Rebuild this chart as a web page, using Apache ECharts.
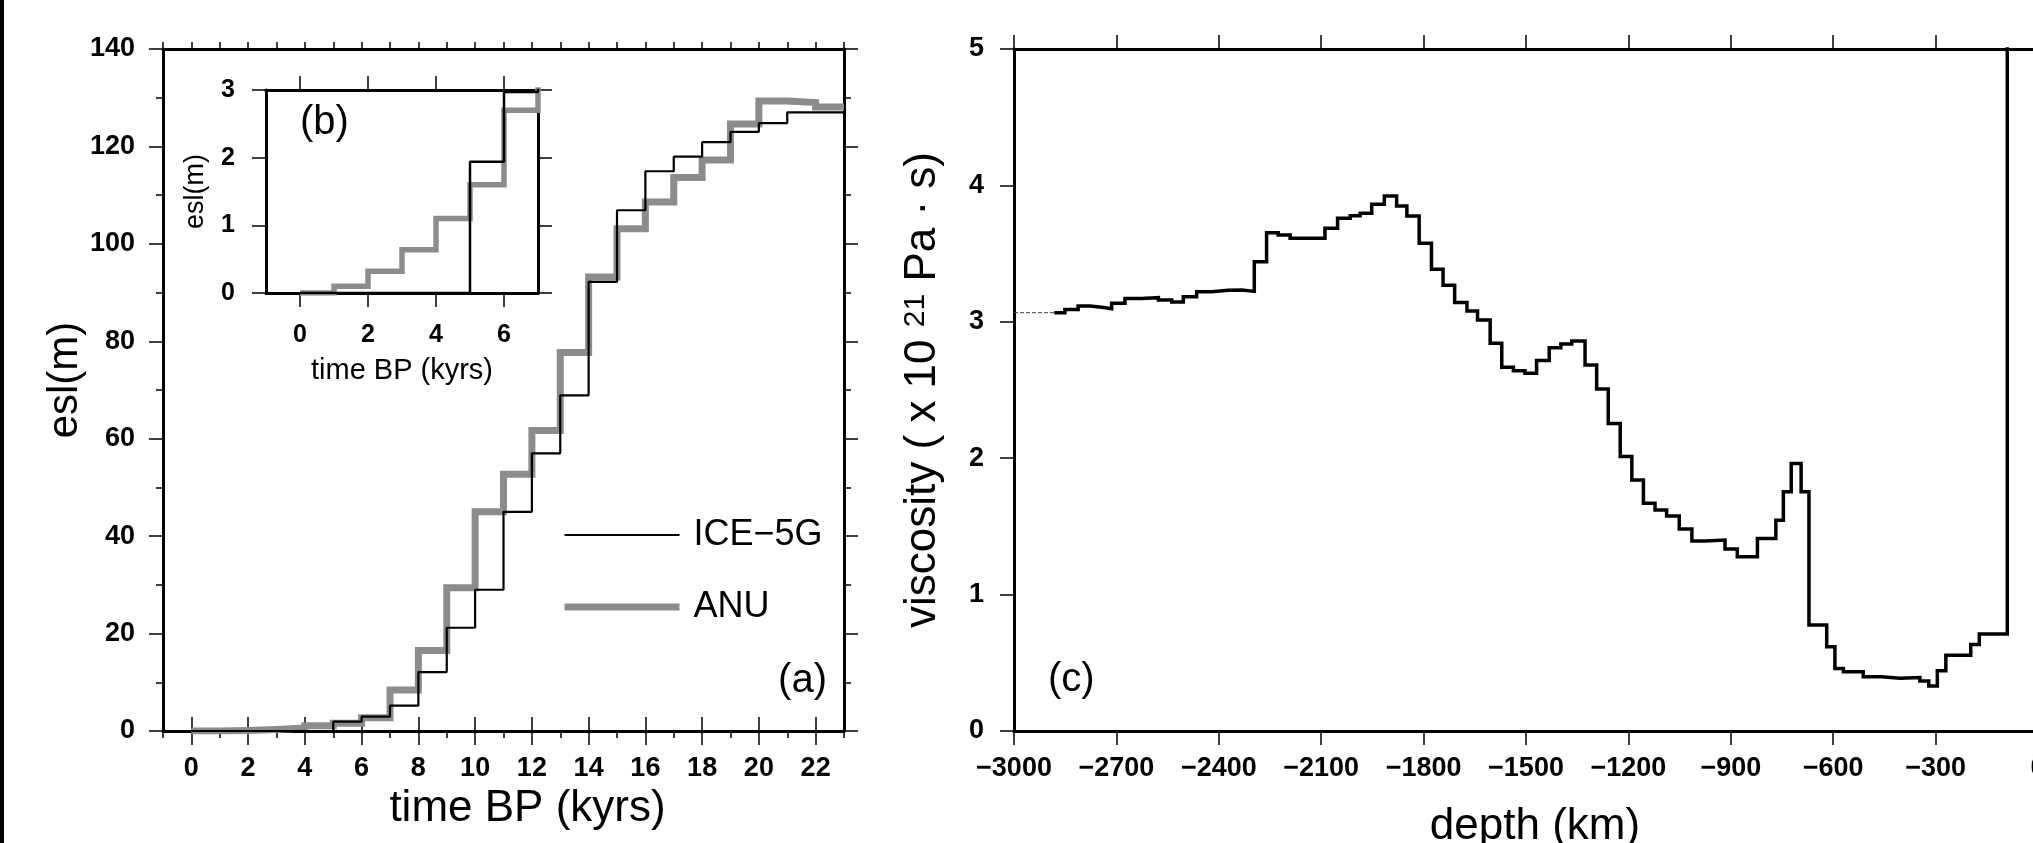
<!DOCTYPE html>
<html><head><meta charset="utf-8">
<script src="https://cdn.jsdelivr.net/npm/echarts@6/dist/echarts.min.js"></script>
<style>html,body{margin:0;padding:0;background:#fff;overflow:hidden}#c{width:2033px;height:843px}</style>
</head><body><div id="c"></div>
<script>
// ---------- DATA ----------
// time bins (kyr BP); value i is held from timeEdges[i] to timeEdges[i+1]
const timeEdges = [0,1,2,3,4,5,6,7,8,9,10,11,12,13,14,15,16,17,18,19,20,21,22,23];
const ice5g = [0,0,0,0,0,1.94,2.97,5.2,12.1,21.2,29.0,45.0,57.0,68.9,92.2,106.9,114.9,117.9,120.9,123.0,124.8,127.0,127.0];
const anu   = [0.0,0.1,0.32,0.64,1.1,1.6,2.7,8.4,16.5,29.4,45.0,52.7,61.7,77.7,93.2,103.1,108.6,113.6,117.2,124.6,129.3,129.0,128.1];
const timeMajorTicks = [0,2,4,6,8,10,12,14,16,18,20,22];
const insetTimeTicks = [0,2,4,6];

// viscosity profile (x 10^21 Pa s); value i is held from depthEdges[i] to depthEdges[i+1]
const depthEdges = [-2882,-2851,-2812,-2777,-2743,-2714,-2675,-2626,-2577,-2538,-2504,-2465,-2421,-2372,-2333,-2296,-2260,-2226,-2191,-2089,-2052,-2015,-1986,-1952,-1915,-1879,-1849,-1813,-1777,-1743,-1709,-1673,-1642,-1605,-1571,-1537,-1503,-1469,-1432,-1398,-1366,-1327,-1293,-1259,-1224,-1190,-1156,-1122,-1088,-1051,-1014,-975,-917,-881,-822,-768,-746,-723,-694,-671,-619,-595,-570,-512,-458,-404,-346,-320,-295,-270,-197,-172,-90,0];
const viscosity = [3.067,3.09,3.116,3.106,3.096,3.136,3.170,3.177,3.160,3.145,3.184,3.221,3.231,3.233,3.223,3.441,3.653,3.636,3.612,3.685,3.759,3.778,3.795,3.861,3.922,3.849,3.776,3.575,3.386,3.268,3.142,3.079,3.013,2.842,2.666,2.642,2.623,2.716,2.81,2.837,2.859,2.683,2.507,2.255,2.012,1.84,1.669,1.62,1.576,1.481,1.393,1.40,1.334,1.278,1.412,1.546,1.754,1.962,1.754,0.777,0.618,0.459,0.435,0.398,0.387,0.392,0.367,0.33,0.442,0.555,0.635,0.711,10];
const depthAxisStart = -3000;

// ---------- BUILD ----------
function steps(edges, vals) {
  const pts = [];
  vals.forEach((v, i) => { pts.push([edges[i], v], [edges[i + 1], v]); });
  return pts;
}
const FONT = "'Liberation Sans', Arial, Helvetica, sans-serif";
const BLACK = '#000';
const GRAY = '#8c8c8c';
const minus = v => String(v).replace('-', '\u2212');

function frameAxis(extra) {
  return Object.assign({
    type: 'value',
    axisLine: { show: true, onZero: false, lineStyle: { color: BLACK, width: 3 } },
    axisTick: { show: true, length: 14, lineStyle: { color: BLACK, width: 1.5 } },
    axisLabel: { show: false },
    splitLine: { show: false }
  }, extra);
}
const tickLabel = (size, margin) => ({
  show: true, fontSize: size, fontWeight: 'bold', color: BLACK, fontFamily: FONT, margin: margin, formatter: minus
});

const option = {
  animation: false,
  backgroundColor: '#fff',
  grid: [
    { left: 163, top: 49, width: 681, height: 682, outerBoundsMode: 'none' },
    { left: 266, top: 90, width: 272, height: 203, show: true, backgroundColor: '#fff', borderWidth: 0, outerBoundsMode: 'none' },
    { left: 1014, top: 49, width: 1024, height: 682, outerBoundsMode: 'none' }
  ],
  xAxis: [
    // panel (a) bottom: frame + minor ticks
    frameAxis({ gridIndex: 0, position: 'bottom', min: -1, max: 23, interval: 1,
      axisTick: { show: true, length: 7, lineStyle: { color: BLACK, width: 1.5 } } }),
    // panel (a) bottom: major ticks + labels + title
    frameAxis({ gridIndex: 0, position: 'bottom', min: -1, max: 23,
      axisLine: { show: false },
      axisTick: { show: true, length: 14, customValues: timeMajorTicks, lineStyle: { color: BLACK, width: 1.5 } },
      axisLabel: Object.assign(tickLabel(27, 24), { customValues: timeMajorTicks }),
      name: 'time BP (kyrs)', nameLocation: 'middle', nameGap: 55,
      nameTextStyle: { fontSize: 44, color: BLACK, fontFamily: FONT, padding: [0, 0, 0, 48] } }),
    // panel (a) top
    frameAxis({ gridIndex: 0, position: 'top', min: -1, max: 23, interval: 1,
      axisTick: { show: true, length: 7, lineStyle: { color: BLACK, width: 1.5 } } }),
    frameAxis({ gridIndex: 0, position: 'top', min: -1, max: 23,
      axisLine: { show: false },
      axisTick: { show: true, length: 14, customValues: timeMajorTicks, lineStyle: { color: BLACK, width: 1.5 } } }),
    // inset (b)
    frameAxis({ gridIndex: 1, position: 'bottom', min: -1, max: 7,
      axisTick: { show: true, length: 14, customValues: insetTimeTicks, lineStyle: { color: BLACK, width: 1.5 } },
      axisLabel: Object.assign(tickLabel(25, 30), { customValues: insetTimeTicks }),
      name: 'time BP (kyrs)', nameLocation: 'middle', nameGap: 63,
      nameTextStyle: { fontSize: 29, color: BLACK, fontFamily: FONT } }),
    frameAxis({ gridIndex: 1, position: 'top', min: -1, max: 7,
      axisTick: { show: true, length: 14, customValues: insetTimeTicks, lineStyle: { color: BLACK, width: 1.5 } } }),
    // panel (c)
    frameAxis({ gridIndex: 2, position: 'bottom', min: depthAxisStart, max: 0, interval: 300,
      axisLabel: tickLabel(27, 24),
      name: 'depth (km)', nameLocation: 'middle', nameGap: 74,
      nameTextStyle: { fontSize: 44, color: BLACK, fontFamily: FONT, padding: [0, 0, 0, 18] } }),
    frameAxis({ gridIndex: 2, position: 'top', min: depthAxisStart, max: 0, interval: 300 })
  ],
  yAxis: [
    frameAxis({ gridIndex: 0, position: 'left', min: 0, max: 140, interval: 20,
      minorTick: { show: true, splitNumber: 2, length: 7, lineStyle: { color: BLACK, width: 1.5 } },
      axisLabel: tickLabel(27, 28),
      name: 'esl(m)', nameLocation: 'middle', nameGap: 71,
      nameTextStyle: { fontSize: 42, color: BLACK, fontFamily: FONT, padding: [0, 0, 0, 20] } }),
    frameAxis({ gridIndex: 0, position: 'right', min: 0, max: 140, interval: 20,
      minorTick: { show: true, splitNumber: 2, length: 7, lineStyle: { color: BLACK, width: 1.5 } } }),
    frameAxis({ gridIndex: 1, position: 'left', min: 0, max: 3, interval: 1,
      axisLabel: tickLabel(25, 31),
      name: 'esl(m)', nameLocation: 'middle', nameGap: 57,
      nameTextStyle: { fontSize: 27, color: BLACK, fontFamily: FONT } }),
    frameAxis({ gridIndex: 1, position: 'right', min: 0, max: 3, interval: 1 }),
    frameAxis({ gridIndex: 2, position: 'left', min: 0, max: 5, interval: 1,
      axisLabel: tickLabel(27, 30),
      name: '{a|viscosity ( x 10 }{s|21}{a| Pa \u00b7 s)}', nameLocation: 'middle', nameGap: 69,
      nameTextStyle: { fontSize: 44, color: BLACK, fontFamily: FONT,
        rich: { a: { fontSize: 44, color: BLACK, fontFamily: FONT },
                s: { fontSize: 30, color: BLACK, fontFamily: FONT, verticalAlign: 'top' } } } }),
    frameAxis({ gridIndex: 2, position: 'right', min: 0, max: 5, interval: 1 })
  ],
  legend: {
    orient: 'vertical', left: 561, top: 517, padding: 0,
    itemWidth: 115, itemHeight: 14, itemGap: 36, selectedMode: false,
    itemStyle: { opacity: 0 },
    textStyle: { fontSize: 36, color: BLACK, fontFamily: FONT, padding: [0, 0, 0, 9] },
    data: [
      { name: 'ICE\u22125G', itemStyle: { opacity: 0 }, lineStyle: { width: 2, color: BLACK } },
      { name: 'ANU', itemStyle: { opacity: 0 }, lineStyle: { width: 7, color: GRAY } }
    ]
  },
  series: [
    { name: 'ANU', type: 'line', xAxisIndex: 0, yAxisIndex: 0, data: steps(timeEdges, anu),
      symbol: 'none', lineStyle: { color: GRAY, width: 7, cap: 'butt', join: 'miter' }, itemStyle: { color: GRAY }, z: 2 },
    { name: 'ICE\u22125G', type: 'line', xAxisIndex: 0, yAxisIndex: 0, data: steps(timeEdges, ice5g),
      symbol: 'none', lineStyle: { color: BLACK, width: 2.2 }, itemStyle: { color: BLACK }, z: 3 },
    { name: 'ANU (b)', type: 'line', xAxisIndex: 4, yAxisIndex: 2, data: steps(timeEdges, anu),
      symbol: 'none', lineStyle: { color: GRAY, width: 5.5, join: 'miter' }, z: 4 },
    { name: 'ICE-5G (b)', type: 'line', xAxisIndex: 4, yAxisIndex: 2, data: steps(timeEdges, ice5g),
      symbol: 'none', lineStyle: { color: BLACK, width: 2.5 }, z: 5 },
    { name: 'viscosity ext', type: 'line', xAxisIndex: 6, yAxisIndex: 4,
      data: [[depthAxisStart, viscosity[0]], [depthEdges[0], viscosity[0]]],
      symbol: 'none', lineStyle: { color: '#444', width: 1, type: [4, 2] } },
    { name: 'viscosity', type: 'line', xAxisIndex: 6, yAxisIndex: 4, data: steps(depthEdges, viscosity),
      symbol: 'none', lineStyle: { color: BLACK, width: 3.5, join: 'miter' } }
  ],
  graphic: [
    { type: 'rect', left: 0, top: 0, shape: { width: 4, height: 843 }, style: { fill: BLACK } },
    { type: 'text', x: 827, y: 681, style: { text: '(a)', font: '40px ' + FONT, fill: BLACK, align: 'right', verticalAlign: 'middle' } },
    { type: 'text', x: 300, y: 123, style: { text: '(b)', font: '40px ' + FONT, fill: BLACK, align: 'left', verticalAlign: 'middle' } },
    { type: 'text', x: 1048, y: 680, style: { text: '(c)', font: '40px ' + FONT, fill: BLACK, align: 'left', verticalAlign: 'middle' } }
  ]
};
const chart = echarts.init(document.getElementById('c'), null, { renderer: 'canvas' });
chart.setOption(option);
</script>
</body></html>
